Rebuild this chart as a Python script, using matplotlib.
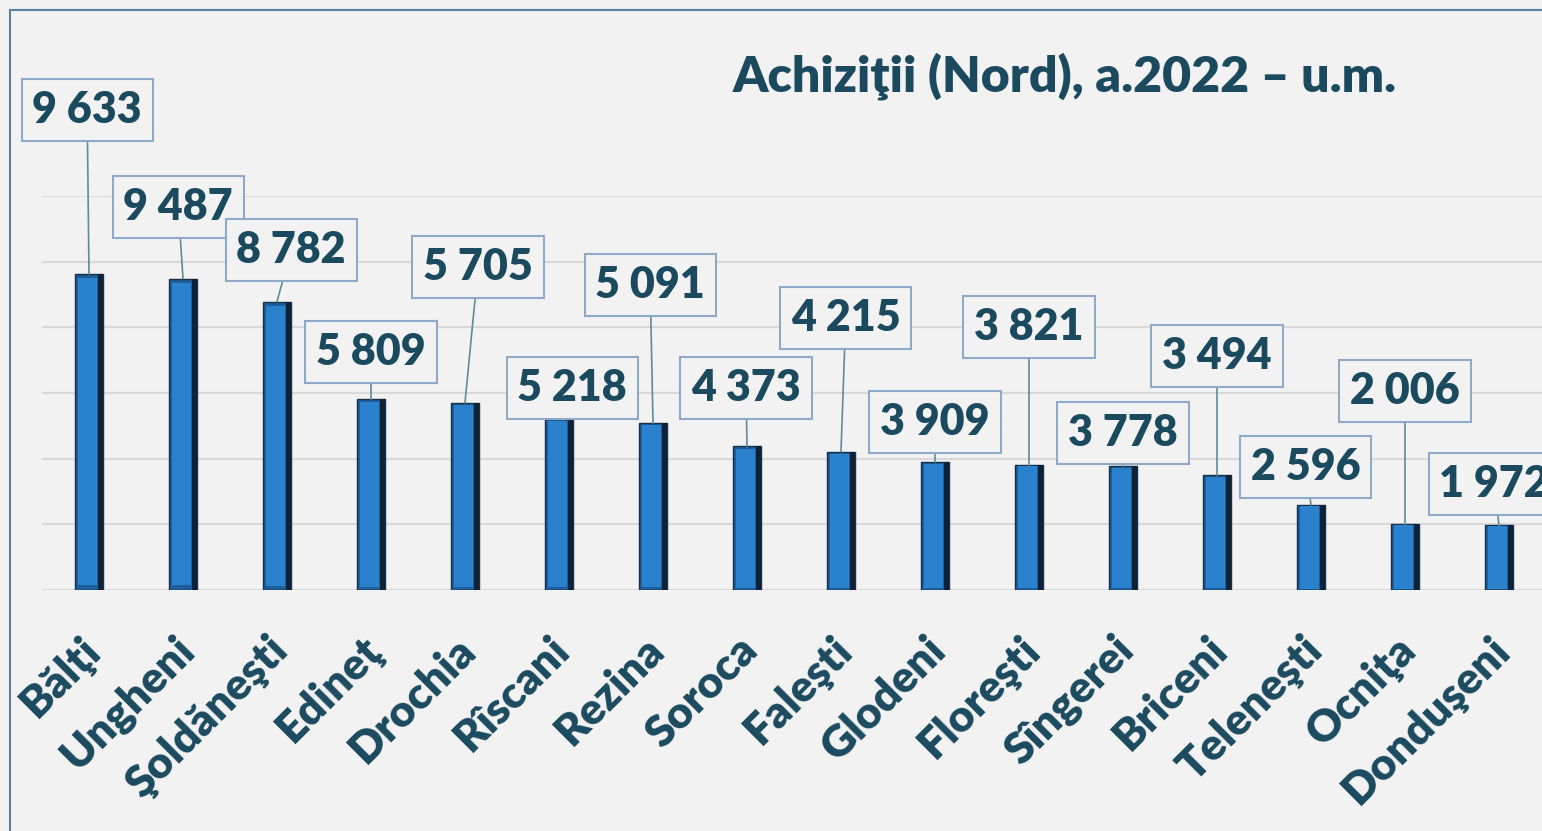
import numpy as np
import matplotlib.pyplot as plt
import matplotlib.transforms as mtransforms
from matplotlib.patches import Rectangle

# DATA
districts = ['Bălţi', 'Ungheni', 'Şoldăneşti', 'Edineţ', 'Drochia', 'Rîscani', 'Rezina', 'Soroca',
             'Faleşti', 'Glodeni', 'Floreşti', 'Sîngerei', 'Briceni', 'Teleneşti', 'Ocniţa', 'Donduşeni']
values = [9633, 9487, 8782, 5809, 5705, 5218, 5091, 4373,
          4215, 3909, 3821, 3778, 3494, 2596, 2006, 1972]

# label box placement (value units / category offsets)
label_y = [14619, 11665, 10355, 7249, 9838, 6152, 9289, 6152,
           8284, 5117, 8010, 4782, 7127, 3746, 6061, 3228]
label_dx = [-0.02, -0.05, 0.15, 0.0, 0.14, 0.14, -0.03, -0.01,
            0.05, 0.0, 0.0, 0.0, 0.0, -0.06, 0.0, -0.05]

text_col = '#1b4a5f'
bg = '#f2f2f2'

plt.rcParams['font.family'] = ['Lato', 'DejaVu Sans']

fig = plt.figure(figsize=(15.42, 8.31), dpi=100, facecolor=bg)
W, H = 1542, 831

# chart frame (cropped on right/bottom)
fig.patches.append(Rectangle((10 / W, -0.1), 1.2, 1 - 10 / H + 0.1, transform=fig.transFigure,
                             facecolor='none', edgecolor='#5b7fa1', linewidth=1.5))

ax = fig.add_axes([42 / W, (H - 590) / H, 1504 / W, 394 / H])
ax.set_facecolor(bg)
x = np.arange(len(values))
vals = np.array(values)

# bars with a simple bevel look
ax.bar(x, vals, width=0.30, color='#1d5e9a', edgecolor='#14304d', linewidth=1.0, zorder=3)
ax.bar(x - 0.015, vals * 0.97, width=0.20, bottom=vals * 0.015, color='#2a82cc', linewidth=0, zorder=4)
ax.bar(x + 0.125, vals, width=0.05, color='#0f2235', linewidth=0, zorder=4)

ax.set_xlim(-0.5, 15.5)
ax.set_ylim(0, 12000)
ax.set_yticks(np.arange(0, 12001, 2000))
ax.yaxis.grid(True, color='#d9d9d9', linewidth=1.5, zorder=0)
ax.set_yticklabels([])
ax.tick_params(axis='both', length=0)
for s in ax.spines.values():
    s.set_visible(False)

ax.set_xticks(x)
ax.set_xticklabels(districts, rotation=45, ha='right', va='top', rotation_mode='anchor',
                   fontsize=32, fontweight='heavy', color=text_col)
ax.tick_params(axis='x', pad=28)
offset = mtransforms.ScaledTranslation(-10 / 100, 0, fig.dpi_scale_trans)
for lbl in ax.get_xticklabels():
    lbl.set_transform(lbl.get_transform() + offset)

# data labels with leader lines
for i, v in enumerate(values):
    lx = x[i] + label_dx[i]
    ly = label_y[i]
    ax.plot([lx, x[i]], [ly, v], color='#5e8c99', linewidth=1.2, zorder=5, clip_on=False)
    ax.text(lx, ly, f'{v:,}'.replace(',', ' '), ha='center', va='center', fontsize=31,
            fontweight='heavy', color=text_col, zorder=6, clip_on=False,
            bbox=dict(boxstyle='square,pad=0.25', facecolor=bg, edgecolor='#8eaac8', linewidth=1.5))

fig.text(1065 / W, 1 - 76 / H, 'Achiziţii (Nord), a.2022 – u.m.', ha='center', va='center',
         fontsize=36, fontweight='heavy', color=text_col)

plt.savefig('out.png', dpi=100, facecolor=bg)
